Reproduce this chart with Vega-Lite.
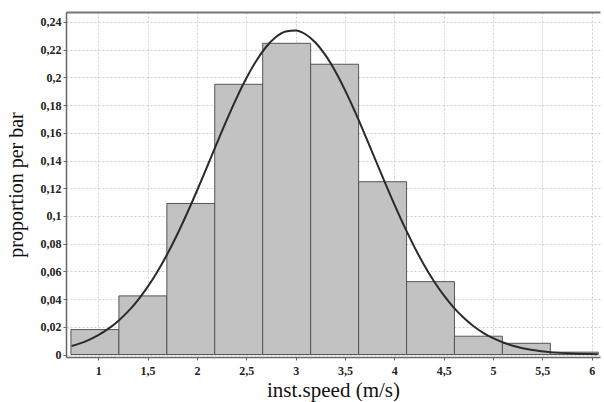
{
  "$schema": "https://vega.github.io/schema/vega-lite/v6.json",
  "width": 534,
  "height": 345,
  "autosize": {"type": "none"},
  "padding": {"left": 66, "top": 12, "right": 4, "bottom": 45},
  "background": "white",
  "config": {
    "view": {"stroke": null},
    "axis": {
      "labelFont": "Liberation Serif",
      "labelFontWeight": "bold",
      "labelFontSize": 12,
      "labelColor": "#222",
      "titleFont": "Liberation Serif",
      "titleFontWeight": "normal",
      "titleFontSize": 20,
      "titleColor": "#111",
      "domainColor": "#666",
      "domainWidth": 1.5,
      "tickColor": "#666",
      "tickSize": 3,
      "gridColor": "#cfcfcf",
      "gridDash": [2, 2],
      "gridWidth": 1
    }
  },
  "datasets": {
    "bars": [
      {"start": 0.723, "end": 1.209, "p": 0.018},
      {"start": 1.209, "end": 1.695, "p": 0.0423},
      {"start": 1.695, "end": 2.180, "p": 0.109},
      {"start": 2.180, "end": 2.666, "p": 0.195},
      {"start": 2.666, "end": 3.152, "p": 0.2246},
      {"start": 3.152, "end": 3.638, "p": 0.2095},
      {"start": 3.638, "end": 4.124, "p": 0.1247},
      {"start": 4.124, "end": 4.609, "p": 0.0526},
      {"start": 4.609, "end": 5.095, "p": 0.0132},
      {"start": 5.095, "end": 5.581, "p": 0.0081},
      {"start": 5.581, "end": 6.067, "p": 0.0017}
    ],
    "curve": [
      {"x": 0.73, "y": 0.00613}, {"x": 0.8, "y": 0.00767}, {"x": 0.9, "y": 0.01043},
      {"x": 1.0, "y": 0.01399}, {"x": 1.1, "y": 0.01849}, {"x": 1.2, "y": 0.02408},
      {"x": 1.3, "y": 0.03091}, {"x": 1.4, "y": 0.03912}, {"x": 1.5, "y": 0.04877},
      {"x": 1.6, "y": 0.05993}, {"x": 1.7, "y": 0.07258}, {"x": 1.8, "y": 0.08664},
      {"x": 1.9, "y": 0.10194}, {"x": 2.0, "y": 0.1182}, {"x": 2.1, "y": 0.1351},
      {"x": 2.2, "y": 0.15217}, {"x": 2.3, "y": 0.16893}, {"x": 2.4, "y": 0.18484},
      {"x": 2.5, "y": 0.19933}, {"x": 2.6, "y": 0.21187}, {"x": 2.7, "y": 0.22194},
      {"x": 2.8, "y": 0.22914}, {"x": 2.9, "y": 0.23317}, {"x": 3.0, "y": 0.23385},
      {"x": 3.1, "y": 0.23115}, {"x": 3.2, "y": 0.22518}, {"x": 3.3, "y": 0.21622},
      {"x": 3.4, "y": 0.20461}, {"x": 3.5, "y": 0.19084}, {"x": 3.6, "y": 0.17544},
      {"x": 3.7, "y": 0.15894}, {"x": 3.8, "y": 0.14193}, {"x": 3.9, "y": 0.12491},
      {"x": 4.0, "y": 0.10834}, {"x": 4.1, "y": 0.09263}, {"x": 4.2, "y": 0.07805},
      {"x": 4.3, "y": 0.06481}, {"x": 4.4, "y": 0.05305}, {"x": 4.5, "y": 0.04279},
      {"x": 4.6, "y": 0.03402}, {"x": 4.7, "y": 0.02666}, {"x": 4.8, "y": 0.02059},
      {"x": 4.9, "y": 0.01567}, {"x": 5.0, "y": 0.01176}, {"x": 5.2, "y": 0.00633},
      {"x": 5.4, "y": 0.00322}, {"x": 5.6, "y": 0.00154}, {"x": 5.8, "y": 0.0007},
      {"x": 6.06, "y": 0.00023}
    ]
  },
  "resolve": {"axis": {"x": "independent", "y": "independent"}},
  "layer": [
    {
      "data": {"name": "bars"},
      "mark": {"type": "rect", "fill": "#c2c2c2", "stroke": "#555", "strokeWidth": 1},
      "encoding": {
        "x": {
          "field": "start", "type": "quantitative",
          "scale": {"domain": [0.673, 6.084], "nice": false, "zero": false},
          "axis": {
            "values": [1, 1.5, 2, 2.5, 3, 3.5, 4, 4.5, 5, 5.5, 6],
            "labelExpr": "replace(format(datum.value, '.1~f'), '.', ',')",
            "title": "inst.speed (m/s)",
            "titleFontSize": 21,
            "labelPadding": 5,
            "titlePadding": 3,
            "grid": true
          }
        },
        "x2": {"field": "end"},
        "y": {
          "field": "p", "type": "quantitative",
          "scale": {"domain": [-0.0018, 0.2472], "nice": false, "zero": false},
          "axis": {
            "values": [0, 0.02, 0.04, 0.06, 0.08, 0.1, 0.12, 0.14, 0.16, 0.18, 0.2, 0.22, 0.24],
            "labelExpr": "replace(format(datum.value, '.2~f'), '.', ',')",
            "title": "proportion per bar",
            "labelPadding": 2,
            "titlePadding": 14,
            "grid": true
          }
        },
        "y2": {"datum": 0}
      }
    },
    {
      "data": {"name": "curve"},
      "mark": {"type": "line", "stroke": "#2a2a2a", "strokeWidth": 2, "interpolate": "monotone"},
      "encoding": {
        "x": {
          "field": "x", "type": "quantitative",
          "axis": {"orient": "top", "labels": false, "ticks": false, "grid": false, "title": null, "domainColor": "#777", "domainWidth": 2}
        },
        "y": {
          "field": "y", "type": "quantitative",
          "axis": null
        }
      }
    }
  ]
}
